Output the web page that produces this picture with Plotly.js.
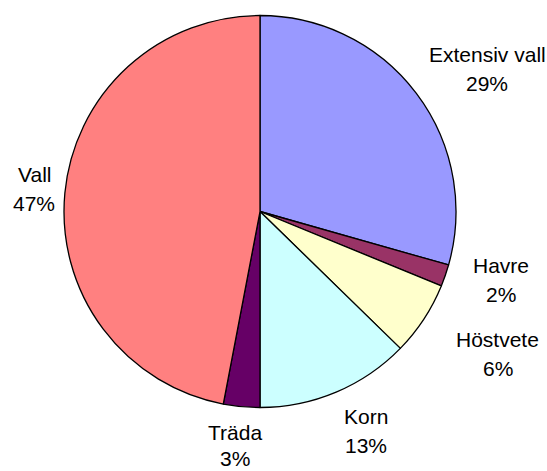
<!DOCTYPE html>
<html>
<head>
<meta charset="utf-8">
<script src="https://cdn.plot.ly/plotly-3.0.1.min.js"></script>
<style>html,body{margin:0;padding:0;background:#fff;}#chart{width:547px;height:471px;}</style>
</head>
<body>
<div id="chart"></div>
<script>
// Data
var categories = ["Extensiv vall", "Havre", "Höstvete", "Korn", "Träda", "Vall"];
var values = [29.4, 1.8, 6.1, 12.7, 3.0, 47.0];

// Styles / layout (not data)
var colors = ["#9999FF", "#993366", "#FFFFCC", "#CCFFFF", "#660066", "#FF8080"];
var W = 547, H = 471;
var cx = 260, cy = 211.5, R = 196;
// label anchor: [x centre px, name baseline px]
var labelPos = [[487, 61.7], [501, 272.7], [497.5, 347], [365.5, 424.3], [235.5, 440], [34, 181.7]];
var lineGap = 29;
var fontSize = 21;

var total = values.reduce(function(a, b){ return a + b; }, 0);
var annotations = [];
categories.forEach(function(c, i){
  var pct = Math.round(values[i] / total * 100) + "%";
  var x = labelPos[i][0] / W;
  var yNamePx = labelPos[i][1] - 7.5;
  var yPctPx = labelPos[i][1] + lineGap - 7.5;
  [[c, yNamePx], [pct, yPctPx]].forEach(function(t){
    var a = {
      xref: "paper", yref: "paper", x: x, y: 1 - t[1] / H,
      xanchor: "center", yanchor: "middle", borderpad: 0,
      text: t[0], showarrow: false,
      font: {family: "Liberation Sans, Arial, sans-serif", size: fontSize, color: "#000"}
    };
    if (t[1] + fontSize * 0.65 > H) { a.y = 0; a.yanchor = "bottom"; }
    annotations.push(a);
  });
});

var trace = {
  type: "pie",
  labels: categories,
  values: values,
  sort: false,
  direction: "clockwise",
  rotation: 0,
  textinfo: "none",
  hoverinfo: "skip",
  marker: {colors: colors, line: {color: "#000", width: 1.3}},
  domain: {
    x: [(cx - R) / W, (cx + R) / W],
    y: [1 - (cy + R) / H, 1 - (cy - R) / H]
  }
};

var layout = {
  width: W, height: H,
  margin: {l: 0, r: 0, t: 0, b: 0},
  paper_bgcolor: "#fff",
  showlegend: false,
  annotations: annotations,
  font: {family: "Liberation Sans, Arial, sans-serif"}
};

Plotly.newPlot("chart", [trace], layout, {staticPlot: true, displayModeBar: false});
</script>
</body>
</html>
